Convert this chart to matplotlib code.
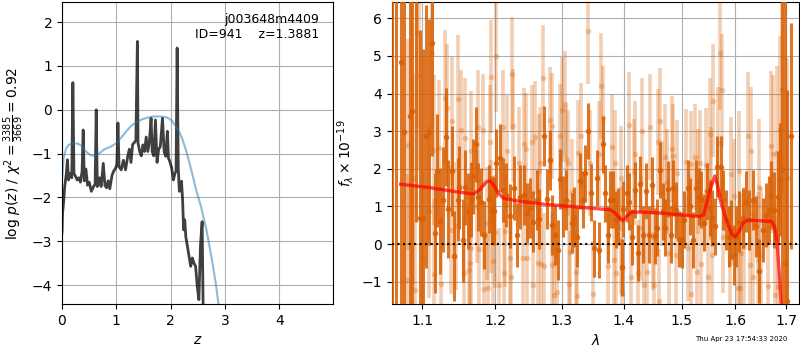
import matplotlib
matplotlib.use('Agg')
import matplotlib.pyplot as plt
from matplotlib.ticker import NullLocator, NullFormatter

# ---- left panel: log p(z)
pz_z = [0.00, 0.01, 0.03, 0.05, 0.08, 0.10, 0.12, 0.15, 0.18, 0.20,
        0.22, 0.25, 0.28, 0.31, 0.34, 0.37, 0.39, 0.41, 0.44, 0.47,
        0.50, 0.54, 0.58, 0.61, 0.63, 0.65, 0.69, 0.72, 0.76, 0.79,
        0.82, 0.85, 0.88, 0.92, 0.95, 0.98, 1.01, 1.03, 1.05, 1.09,
        1.13, 1.17, 1.21, 1.24, 1.27, 1.30, 1.33, 1.36, 1.388, 1.40,
        1.43, 1.46, 1.49, 1.52, 1.55, 1.58, 1.61, 1.64, 1.66, 1.69,
        1.72, 1.75, 1.78, 1.81, 1.85, 1.88, 1.91, 1.94, 1.96, 1.99,
        2.02, 2.05, 2.08, 2.10, 2.12, 2.14, 2.16, 2.18, 2.20, 2.22,
        2.24, 2.26, 2.28, 2.31, 2.34, 2.37, 2.40, 2.43, 2.46, 2.49,
        2.52, 2.55, 2.58, 2.60, 2.62, 2.66]
pz_logp = [-2.81, -2.36, -2.10, -1.75, -1.45, -1.14, -1.60, -1.45, -1.55, 0.62,
           -1.45, -1.52, -1.60, -1.55, -1.65, -1.40, -0.46, -1.62, -1.35, -1.72,
           -1.65, -1.86, -1.75, -1.70, 0.00, -1.75, -1.55, -1.75, -1.22, -1.72,
           -1.78, -1.62, -1.80, -1.50, -1.40, -1.35, -1.25, -0.30, -1.30, -1.37,
           -1.15, -1.37, -1.06, -0.90, -1.20, -0.79, -0.75, -0.70, 1.56, -0.76,
           -0.95, -1.05, -0.80, -0.95, -0.62, -0.95, -0.70, -0.19, -0.95, -1.05,
           -0.23, -1.20, -0.90, -0.84, -0.19, -0.95, -1.06, -0.49, -1.10, -1.20,
           -1.33, -1.60, -1.45, -1.40, 1.41, -1.30, -1.86, -1.75, -1.63, -2.05,
           -2.74, -2.51, -2.90, -3.12, -3.35, -3.57, -3.38, -3.50, -3.57, -4.03,
           -4.33, -3.08, -2.55, -4.70, -5.50, -7.00]

prior_z = [0.00, 0.03, 0.07, 0.12, 0.20, 0.29, 0.36, 0.44, 0.52, 0.60,
           0.68, 0.78, 0.90, 1.00, 1.10, 1.19, 1.28, 1.37, 1.47, 1.57,
           1.67, 1.80, 1.92, 2.01, 2.10, 2.20, 2.29, 2.38, 2.47, 2.56,
           2.66, 2.75, 2.83, 2.88, 2.95]
prior_logp = [-1.60, -1.10, -0.90, -0.80, -0.77, -0.77, -0.82, -0.95, -1.03, -1.05,
              -1.00, -0.90, -0.84, -0.76, -0.62, -0.48, -0.36, -0.28, -0.22, -0.18,
              -0.15, -0.15, -0.17, -0.23, -0.38, -0.61, -0.95, -1.37, -1.83, -2.21,
              -2.74, -3.35, -3.95, -4.43, -5.00]

# ---- right panel: spectrum (f_lambda x 1e-19)
lam_opt = [1.0607, 1.0653, 1.0728, 1.0758, 1.0838, 1.0868, 1.0923, 1.0970, 1.1014, 1.1047,
           1.1083, 1.1124, 1.1165, 1.1198, 1.1234, 1.1275, 1.1312, 1.1350, 1.1391, 1.1427,
           1.1473, 1.1495, 1.1542, 1.1578, 1.1619, 1.1656, 1.1688, 1.1729, 1.1762, 1.1804,
           1.1839, 1.1918, 1.1955, 1.1987, 1.2015, 1.2065, 1.2116, 1.2165, 1.2215, 1.2275,
           1.2315, 1.2365, 1.2416, 1.2461, 1.2510, 1.2560, 1.2611, 1.2650, 1.2725, 1.2765,
           1.2815, 1.2851, 1.2890, 1.2935, 1.2975, 1.3016, 1.3070, 1.3151, 1.3188, 1.3232,
           1.3286, 1.3329, 1.3367, 1.3411, 1.3459, 1.3503, 1.3556, 1.3593, 1.3658, 1.3690,
           1.3734, 1.3778, 1.3827, 1.3864, 1.3908, 1.3966, 1.3990, 1.4047, 1.4087, 1.4139,
           1.4192, 1.4233, 1.4279, 1.4331, 1.4378, 1.4425, 1.4477, 1.4523, 1.4570, 1.4617,
           1.4669, 1.4709, 1.4767, 1.4814, 1.4854, 1.4901, 1.4948, 1.5000, 1.5049, 1.5112,
           1.5160, 1.5211, 1.5261, 1.5310, 1.5360, 1.5410, 1.5459, 1.5515, 1.5560, 1.5608,
           1.5659, 1.5720, 1.5771, 1.5821, 1.5870, 1.5920, 1.5970, 1.6019, 1.6077, 1.6143,
           1.6207, 1.6271, 1.6337, 1.6400, 1.6464, 1.6530, 1.6594, 1.6658, 1.6704, 1.6755,
           1.6832, 1.6884, 1.6917, 1.6981, 1.7013, 1.7091]
flux_opt = [6.80, -2.20, 4.83, 2.97, 3.41, 3.53, 6.60, 0.69, 0.69, 2.86,
            2.97, 5.33, 0.29, 1.95, 0.62, 1.18, 2.85, 0.93, 1.95, -0.31,
            1.18, 1.51, 0.10, 1.51, 0.88, 1.19, 1.80, 2.65, 1.26, 1.11,
            0.25, 1.19, 0.91, 0.89, 2.15, 2.28, 1.44, 1.31, 0.75, 1.49,
            0.25, 1.26, 1.31, 0.82, 0.96, 0.60, 1.18, 0.66, 2.87, 1.20,
            2.24, 0.51, 0.25, -0.15, 1.73, 1.00, 1.18, 0.56, 0.73, 0.19,
            1.68, 1.18, 1.88, 3.01, 1.37, -0.11, 1.75, -0.15, 2.65, 1.35,
            0.25, 1.18, 1.18, 0.65, 0.73, -0.62, 0.93, 1.35, 1.13, 0.19,
            1.44, -0.24, 1.60, 0.25, 1.41, 0.25, 1.57, 0.22, 0.44, 1.97,
            0.87, 0.44, 1.46, 0.25, 1.49, 0.91, 0.13, 0.11, 0.65, 1.49,
            1.00, 0.11, 1.49, 1.26, 1.18, 0.57, 1.40, 0.96, 0.69, 0.47,
            2.06, 2.06, 1.18, 0.65, 0.20, 0.38, -0.28, 0.20, 0.60, 0.69,
            1.13, 0.65, 1.18, 0.47, -0.71, 0.38, 0.78, 0.91, 1.31, 0.91,
            1.26, 1.71, 2.00, -0.50, -1.50, 2.86]
err_opt = [9.0, 9.0, 7.0, 7.0, 6.0, 6.0, 6.0, 5.0, 4.5, 3.5,
           3.0, 3.0, 1.6, 1.5, 1.4, 1.4, 1.3, 1.3, 1.2, 1.2,
           1.1, 1.1, 1.1, 1.0, 1.0, 1.0, 1.0, 1.0, 0.9, 0.9,
           0.9, 0.9, 0.9, 0.9, 0.9, 0.9, 0.85, 0.85, 0.85, 0.85,
           0.85, 0.85, 0.8, 0.8, 0.8, 0.8, 0.8, 0.8, 0.8, 0.8,
           0.8, 0.8, 0.8, 0.8, 0.8, 0.8, 0.8, 0.8, 0.8, 0.8,
           0.75, 0.75, 0.75, 0.75, 0.75, 0.75, 0.75, 0.75, 0.75, 0.75,
           0.75, 0.75, 0.75, 0.75, 0.75, 0.75, 0.75, 0.75, 0.75, 0.75,
           0.75, 0.75, 0.75, 0.75, 0.75, 0.75, 0.75, 0.75, 0.75, 0.75,
           0.75, 0.75, 0.75, 0.75, 0.75, 0.75, 0.75, 0.75, 0.75, 0.75,
           0.75, 0.75, 0.75, 0.75, 0.75, 0.75, 0.75, 0.75, 0.75, 0.75,
           0.8, 0.8, 0.8, 0.8, 0.8, 0.8, 0.8, 0.8, 0.8, 0.8,
           0.8, 0.8, 0.8, 0.8, 0.85, 0.85, 0.85, 0.9, 0.9, 1.0,
           1.2, 1.5, 6.0, 7.0, 5.6, 3.0]

lam_beam = [1.0794, 1.0815, 1.0881, 1.0904, 1.0934, 1.0960, 1.0996, 1.1083, 1.1129, 1.1151,
            1.1160, 1.1220, 1.1253, 1.1299, 1.1336, 1.1381, 1.1391, 1.1450, 1.1473, 1.1519,
            1.1564, 1.1574, 1.1633, 1.1647, 1.1656, 1.1666, 1.1739, 1.1757, 1.1771, 1.1830,
            1.1845, 1.1886, 1.1900, 1.1925, 1.1938, 1.1945, 1.1977, 1.2000, 1.2008, 1.2050,
            1.2118, 1.2130, 1.2150, 1.2176, 1.2215, 1.2236, 1.2251, 1.2266, 1.2350, 1.2401,
            1.2416, 1.2460, 1.2470, 1.2536, 1.2551, 1.2585, 1.2626, 1.2650, 1.2670, 1.2680,
            1.2710, 1.2725, 1.2815, 1.2845, 1.2851, 1.2870, 1.2925, 1.2975, 1.3000, 1.3042,
            1.3070, 1.3100, 1.3110, 1.3123, 1.3162, 1.3216, 1.3232, 1.3253, 1.3308, 1.3415,
            1.3448, 1.3487, 1.3584, 1.3622, 1.3649, 1.3730, 1.3800, 1.3828, 1.3860, 1.3870,
            1.3946, 1.3958, 1.3974, 1.4087, 1.4117, 1.4174, 1.4192, 1.4233, 1.4291, 1.4303,
            1.4338, 1.4395, 1.4453, 1.4495, 1.4512, 1.4590, 1.4605, 1.4627, 1.4656, 1.4703,
            1.4743, 1.4773, 1.4830, 1.4847, 1.4900, 1.4917, 1.5080, 1.5112, 1.5165, 1.5180,
            1.5248, 1.5285, 1.5298, 1.5328, 1.5347, 1.5453, 1.5485, 1.5515, 1.5547, 1.5560,
            1.5578, 1.5672, 1.5702, 1.5752, 1.5765, 1.5888, 1.5920, 1.5981, 1.6046, 1.6077,
            1.6097, 1.6110, 1.6174, 1.6240, 1.6290, 1.6304, 1.6337, 1.6433, 1.6464, 1.6497,
            1.6638, 1.6690, 1.6743, 1.6768, 1.6807, 1.6832, 1.6871, 1.6917, 1.7014]
flux_beam = [-0.95, 2.64, 1.75, -1.21, 5.60, 4.49, -0.37, 0.87, 5.07, 2.50,
             -0.79, 2.55, -1.06, 3.89, 3.61, 0.38, 3.28, 0.47, 3.85, 3.02,
             -0.77, 2.81, -0.70, -0.50, 2.46, -0.11, 1.00, 3.12, -0.13, 3.03,
             -1.19, 0.56, -1.17, 2.72, 0.73, 4.45, -0.46, 0.33, 5.00, -1.08,
             3.12, -0.77, 0.36, 2.46, -0.37, -0.88, 4.52, 3.15, 2.15, -0.37,
             2.65, 2.52, -0.37, 2.72, -1.08, 2.84, -0.50, 1.95, 2.15, -0.53,
             4.41, -0.58, 3.30, 3.14, -0.55, -1.35, -1.28, 2.86, 3.57, 3.72,
             2.26, 2.15, -1.05, -0.22, 1.38, -0.73, -1.39, 2.42, 2.88, 5.66,
             2.15, -1.32, 2.40, 4.20, 3.34, -0.59, 2.59, -0.42, 2.15, -0.77,
             0.11, 1.75, -1.30, 3.16, -0.86, 1.91, 2.40, -0.77, 0.42, 3.01,
             -1.08, -0.75, 3.11, 0.19, -1.08, 2.71, -1.52, 3.27, 1.35, 2.31,
             1.66, -0.24, 2.53, 2.33, -0.28, 1.90, 2.19, -0.11, 2.13, -1.32,
             2.31, -0.73, 1.66, 2.15, -0.53, 2.11, -0.88, 2.92, 1.62, -0.30,
             3.81, 2.68, 5.07, 4.08, 0.20, -0.50, 1.87, 1.28, -1.17, 1.93,
             -1.17, -0.24, -0.08, 2.86, -0.55, 2.46, -0.86, -0.42, 1.53, -0.28,
             -1.11, 2.61, 2.40, -1.35, 2.42, -1.13, 3.03, 4.11, 1.75]
err_beam = [2.8, 2.8, 2.8, 2.8, 2.5, 2.5, 2.3, 2.3, 2.0, 2.0,
            2.0, 1.8, 1.8, 1.8, 1.7, 1.7, 1.7, 1.7, 1.7, 1.6,
            1.6, 1.6, 1.6, 1.6, 1.6, 1.6, 1.5, 1.5, 1.5, 1.5,
            1.5, 1.5, 1.5, 1.5, 1.5, 1.5, 1.5, 1.5, 1.5, 1.5,
            1.5, 1.5, 1.5, 1.5, 1.5, 1.5, 1.5, 1.5, 1.5, 1.5,
            1.5, 1.5, 1.5, 1.5, 1.5, 1.5, 1.5, 1.5, 1.5, 1.5,
            1.4, 1.4, 1.4, 1.4, 1.4, 1.4, 1.4, 1.4, 1.4, 1.4,
            1.4, 1.4, 1.4, 1.4, 1.4, 1.4, 1.4, 1.4, 1.4, 1.4,
            1.4, 1.4, 1.4, 1.4, 1.4, 1.4, 1.4, 1.4, 1.4, 1.4,
            1.4, 1.4, 1.4, 1.4, 1.4, 1.4, 1.4, 1.4, 1.4, 1.4,
            1.4, 1.4, 1.4, 1.4, 1.4, 1.4, 1.4, 1.4, 1.4, 1.4,
            1.4, 1.4, 1.4, 1.4, 1.4, 1.4, 1.4, 1.4, 1.4, 1.4,
            1.4, 1.4, 1.4, 1.4, 1.4, 1.5, 1.5, 1.5, 1.5, 1.5,
            1.5, 1.5, 1.5, 1.5, 1.5, 1.5, 1.5, 1.5, 1.6, 1.6,
            1.6, 1.6, 1.6, 1.7, 1.7, 1.7, 1.7, 1.8, 1.8, 1.8,
            1.9, 2.0, 2.1, 2.1, 2.3, 2.3, 2.5, 2.8, 3.2]

lam_model = [1.0718, 1.110, 1.146, 1.169, 1.178, 1.188, 1.193, 1.198, 1.205, 1.212,
             1.232, 1.273, 1.328, 1.378, 1.386, 1.393, 1.399, 1.405, 1.413, 1.431,
             1.467, 1.503, 1.530, 1.540, 1.549, 1.555, 1.561, 1.566, 1.573, 1.583,
             1.592, 1.599, 1.607, 1.615, 1.624, 1.648, 1.671, 1.677, 1.682, 1.686,
             1.690, 1.694]
flux_model = [1.59, 1.50, 1.39, 1.33, 1.44, 1.66, 1.68, 1.57, 1.35, 1.22,
              1.15, 1.06, 0.98, 0.91, 0.82, 0.69, 0.62, 0.75, 0.85, 0.85,
              0.82, 0.77, 0.73, 0.77, 1.26, 1.57, 1.81, 1.57, 1.08, 0.64,
              0.29, 0.20, 0.33, 0.57, 0.64, 0.62, 0.60, 0.46, 0.02, -0.78,
              -1.59, -3.00]

lam_ticks = [1.1, 1.2, 1.3, 1.4, 1.5, 1.6, 1.7]

spec_color = '#d95f02'

fig = plt.figure(figsize=(8, 3.5), dpi=100)
ax1 = fig.add_axes([0.0775, 0.1314, 0.3388, 0.8629])
ax2 = fig.add_axes([0.4896, 0.1314, 0.5095, 0.8629])

# p(z)
ax1.plot(pz_z, pz_logp, color='k', alpha=0.75, lw=2)
ax1.plot(prior_z, prior_logp, color='C0', alpha=0.5, lw=1.5)
ax1.set_xlim(0, 4.99)
ax1.set_ylim(-4.43, 2.46)
ax1.set_xticks([0, 1, 2, 3, 4])
ax1.set_xlabel('$z$')
ax1.set_ylabel(r'$\log\,p(z)$ / $\chi^2=\frac{3385}{3669}=0.92$')
ax1.grid()
ax1.text(0.95, 0.965, 'j003648m4409\nID=941    z=1.3881', ha='right', va='top',
         transform=ax1.transAxes, fontsize=9)

# spectrum
ax2.errorbar(lam_beam, flux_beam, yerr=err_beam, fmt='o', color=spec_color,
             alpha=0.3, ms=4, mec='none', elinewidth=2.6, capsize=0, zorder=2)
ax2.errorbar(lam_opt, flux_opt, yerr=err_opt, fmt='o', color=spec_color,
             alpha=0.85, ms=4, mec='none', elinewidth=2.2, capsize=0, zorder=3)
ax2.plot(lam_model, flux_model, color='r', alpha=0.7, lw=2.4, zorder=5)
ax2.axhline(0, color='k', ls=':', lw=1.5, zorder=6)

ax2.set_xscale('log')
ax2.set_xlim(1.0604, 1.727)
ax2.set_ylim(-1.59, 6.43)
ax2.set_xticks(lam_ticks)
ax2.set_xticklabels([f'{t:.1f}' for t in lam_ticks])
ax2.xaxis.set_minor_locator(NullLocator())
ax2.xaxis.set_minor_formatter(NullFormatter())
ax2.set_yticks(range(-1, 7))
ax2.set_xlabel(r'$\lambda$')
ax2.set_ylabel(r'$f_\lambda\times10^{-19}$')
ax2.grid(zorder=1)
ax2.set_axisbelow(True)

fig.text(0.984, 0.022, 'Thu Apr 23 17:54:33 2020', ha='right', va='bottom', fontsize=5)

fig.savefig('out.png', dpi=100)
